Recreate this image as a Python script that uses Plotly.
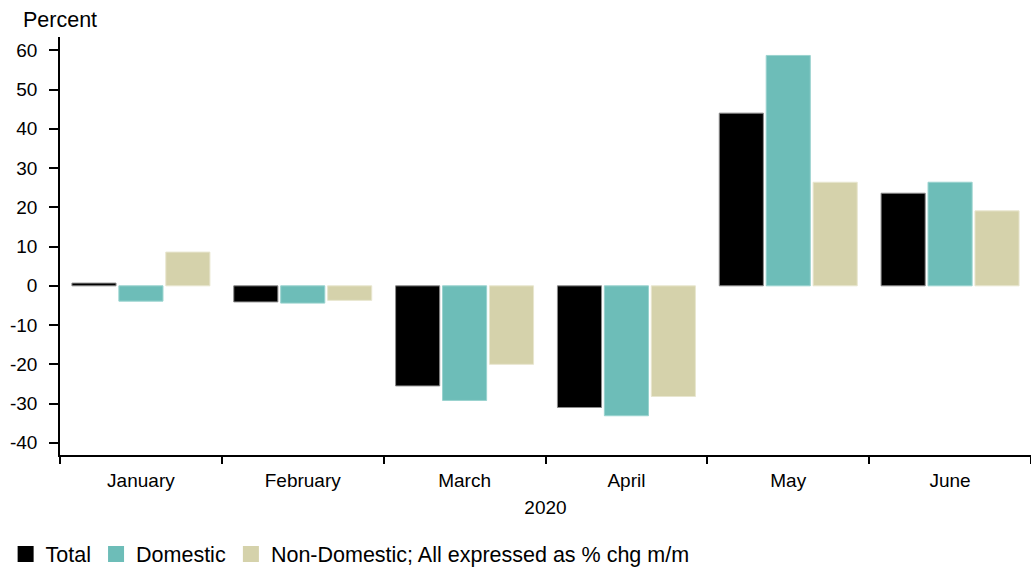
import plotly.graph_objects as go

months = ["January", "February", "March", "April", "May", "June"]
total = [0.7, -4.1, -25.5, -31.0, 44.0, 23.6]
domestic = [-3.9, -4.4, -29.2, -33.1, 58.7, 26.4]
non_domestic = [8.6, -3.7, -20.0, -28.2, 26.4, 19.1]

y_tick_vals = [-40, -30, -20, -10, 0, 10, 20, 30, 40, 50, 60]
y_tick_text = ["-40", "-30", "-20", "-10", "0", "10", "20", "30", "40", "50", "60"]

series_names = ["Total", "Domestic", "Non-Domestic; All expressed as % chg m/m"]
series_vals = [total, domestic, non_domestic]
colors = ["#000000", "#6DBDB8", "#D5D2AB"]
edge_colors = ["#8a8a8a", "#9AD3CF", "#E8E6CF"]

FONT = "Liberation Sans, Arial, sans-serif"

fig = go.Figure()
for name, vals, c, ec in zip(series_names, series_vals, colors, edge_colors):
    fig.add_trace(go.Bar(x=months, y=vals, name=name, marker=dict(color=c, line=dict(color=ec, width=1)),
                         showlegend=False))
    fig.add_trace(go.Scatter(x=[None], y=[None], mode="markers", name=name,
                             marker=dict(symbol="square", size=16, color=c)))

fig.update_layout(
    width=1031, height=569,
    margin=dict(l=60, r=0, t=37, b=114, autoexpand=False),
    paper_bgcolor="white", plot_bgcolor="white",
    barmode="group", bargap=0.13, bargroupgap=0.06,
    font=dict(family=FONT, size=19, color="black"),
    legend=dict(orientation="h", x=-0.056, xanchor="left", y=-0.237, yanchor="middle",
                font=dict(size=21.5), itemwidth=30, tracegroupgap=0),
    xaxis=dict(showline=True, linecolor="black", linewidth=1.5, ticks="outside", tickson="boundaries",
               ticklen=7, tickwidth=1.5, tickcolor="black", showgrid=False, automargin=False,
               ticklabelstandoff=7,
               title=dict(text="2020", standoff=11, font=dict(size=19)), tickfont=dict(size=19)),
    yaxis=dict(range=[-43.1, 63.4], tickvals=y_tick_vals, ticktext=y_tick_text, showline=True,
               linecolor="black", linewidth=1.5, ticks="outside", ticklen=9, tickwidth=1.5,
               tickcolor="black", showgrid=False, zeroline=False, ticklabelstandoff=8,
               tickfont=dict(size=19), automargin=False),
    annotations=[dict(text="Percent", xref="paper", yref="paper", x=-0.04, y=1.0, xanchor="left",
                      yanchor="bottom", yshift=3, showarrow=False, font=dict(size=21.5))],
)

fig.write_html("out.html", config={"displayModeBar": False},
               post_script="document.body.style.margin='0';document.body.style.padding='0';")
